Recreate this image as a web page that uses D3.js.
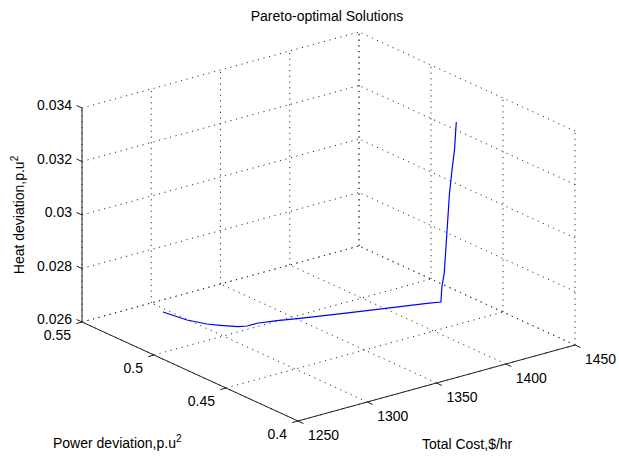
<!DOCTYPE html>
<html>
<head>
<meta charset="utf-8">
<script src="https://cdn.jsdelivr.net/npm/d3@7"></script>
<style>
  body { margin: 0; background: #fff; }
  text { font-family: "Liberation Sans", Arial, sans-serif; fill: #000; }
</style>
</head>
<body>
<div id="vis"></div>
<script>
// pareto front points (cost, power dev, heat dev)
const cost  = [1296.4, 1297.5, 1299.4, 1304.5, 1309.1, 1315.8, 1320.6, 1327.8, 1339.4, 1352.1, 1380.2, 1408.7, 1424.2, 1431.8,
               1432.5, 1434.2, 1436.1, 1438.0, 1439.8, 1441.6, 1442.9];
const power = [0.5384, 0.5332, 0.5246, 0.5156, 0.511, 0.505, 0.5033, 0.5033, 0.5005, 0.4968, 0.4891, 0.4818, 0.478, 0.4756,
               0.4756, 0.4756, 0.4756, 0.4756, 0.4756, 0.4756, 0.4756];
const heat  = [0.026, 0.026, 0.026, 0.026, 0.026, 0.026, 0.026, 0.026, 0.026, 0.026, 0.026, 0.026, 0.026, 0.026,
               0.02656, 0.02705, 0.02852, 0.02999, 0.03082, 0.03155, 0.03257];

// tick values
const costTicks  = [1250, 1300, 1350, 1400, 1450];
const powerTicks = [0.4, 0.45, 0.5, 0.55];
const heatTicks  = [0.026, 0.028, 0.03, 0.032, 0.034];
const heatLabels = ["0.026", "0.028", "0.03", "0.032", "0.034"];

const W = 619, H = 457;

const svg = d3.select("#vis")
  .append("svg")
    .attr("width", W)
    .attr("height", H);

svg.append("rect").attr("width", W).attr("height", H).attr("fill", "#fff");

// normalised scales for each 3d axis
const xS = d3.scaleLinear().domain([1250, 1450]).range([0, 1]);
const yS = d3.scaleLinear().domain([0.4, 0.55]).range([0, 1]);
const zS = d3.scaleLinear().domain([0.026, 0.034]).range([0, 1]);

// view: origin corner and screen vectors of the unit axes
const O  = [298, 421];
const EX = [277, -76];
const EY = [-216, -99];
const HZ = 214;

function proj(c, p, h) {
  const a = xS(c), b = yS(p), g = zS(h);
  return [O[0] + a * EX[0] + b * EY[0], O[1] + a * EX[1] + b * EY[1] - g * HZ];
}

const x0 = 1250, x1 = 1450, y0 = 0.4, y1 = 0.55, z0 = 0.026, z1 = 0.034;

// grid lines: back wall (power = max), side wall (cost = max), floor
let grid = [];
costTicks.forEach(c => grid.push([proj(c, y1, z0), proj(c, y1, z1)]));
heatTicks.forEach(h => grid.push([proj(x0, y1, h), proj(x1, y1, h)]));
powerTicks.forEach(p => grid.push([proj(x1, p, z0), proj(x1, p, z1)]));
heatTicks.forEach(h => grid.push([proj(x1, y0, h), proj(x1, y1, h)]));
costTicks.forEach(c => grid.push([proj(c, y0, z0), proj(c, y1, z0)]));
powerTicks.forEach(p => grid.push([proj(x0, p, z0), proj(x1, p, z0)]));

svg.append("g")
  .selectAll("line")
  .data(grid)
  .enter()
  .append("line")
    .attr("x1", d => d[0][0]).attr("y1", d => d[0][1])
    .attr("x2", d => d[1][0]).attr("y2", d => d[1][1])
    .attr("stroke", "#333")
    .attr("stroke-width", 1)
    .attr("stroke-dasharray", "1.2,4.5");

// the front
const pts = cost.map((c, i) => proj(c, power[i], heat[i]));
svg.append("path")
  .datum(pts)
  .attr("d", d3.line())
  .attr("fill", "none")
  .attr("stroke", "#0000ff")
  .attr("stroke-width", 1.2);

// axis lines
const axes = [
  [proj(x0, y1, z0), proj(x0, y1, z1)],
  [proj(x0, y0, z0), proj(x0, y1, z0)],
  [proj(x0, y0, z0), proj(x1, y0, z0)]
];
svg.append("g")
  .selectAll("line")
  .data(axes)
  .enter()
  .append("line")
    .attr("x1", d => d[0][0]).attr("y1", d => d[0][1])
    .attr("x2", d => d[1][0]).attr("y2", d => d[1][1])
    .attr("stroke", "#222")
    .attr("stroke-width", 1);

// tick marks
const TL = 6;
function unit(v) { const n = Math.hypot(v[0], v[1]); return [v[0] / n, v[1] / n]; }
const ux = unit(EX), uy = unit(EY);

let ticks = [];
heatTicks.forEach(h => { const p = proj(x0, y1, h); ticks.push([p, [p[0] + uy[0] * TL, p[1] + uy[1] * TL]]); });
powerTicks.forEach(q => { const p = proj(x0, q, z0); ticks.push([p, [p[0] - ux[0] * TL, p[1] - ux[1] * TL]]); });
costTicks.forEach(c => { const p = proj(c, y0, z0); ticks.push([p, [p[0] - uy[0] * TL, p[1] - uy[1] * TL]]); });

svg.append("g")
  .selectAll("line")
  .data(ticks)
  .enter()
  .append("line")
    .attr("x1", d => d[0][0]).attr("y1", d => d[0][1])
    .attr("x2", d => d[1][0]).attr("y2", d => d[1][1])
    .attr("stroke", "#222")
    .attr("stroke-width", 1);

// tick labels
const FS = 14;
svg.append("g")
  .selectAll("text")
  .data(heatTicks)
  .enter()
  .append("text")
    .attr("x", d => proj(x0, y1, d)[0] - 10)
    .attr("y", d => proj(x0, y1, d)[1] + 2)
    .attr("text-anchor", "end")
    .style("font-size", FS + "px")
    .text((d, i) => heatLabels[i]);

svg.append("g")
  .selectAll("text")
  .data(powerTicks)
  .enter()
  .append("text")
    .attr("x", d => proj(x0, d, z0)[0] - 11)
    .attr("y", d => proj(x0, d, z0)[1] + 18)
    .attr("text-anchor", "end")
    .style("font-size", FS + "px")
    .text(d => d3.format("")(d));

svg.append("g")
  .selectAll("text")
  .data(costTicks)
  .enter()
  .append("text")
    .attr("x", d => proj(d, y0, z0)[0] + 10)
    .attr("y", d => proj(d, y0, z0)[1] + 19)
    .attr("text-anchor", "start")
    .style("font-size", FS + "px")
    .text(d => d);

// title and axis labels
svg.append("text")
  .attr("x", 327).attr("y", 21)
  .attr("text-anchor", "middle")
  .style("font-size", FS + "px")
  .text("Pareto-optimal Solutions");

const pl = svg.append("text")
  .attr("x", 53).attr("y", 448)
  .style("font-size", FS + "px")
  .text("Power deviation,p.u");
pl.append("tspan").attr("dy", -6).style("font-size", "10px").text("2");

svg.append("text")
  .attr("x", 422).attr("y", 449)
  .style("font-size", FS + "px")
  .text("Total Cost,$/hr");

const hl = svg.append("text")
  .attr("transform", "translate(24,215) rotate(-90)")
  .attr("text-anchor", "middle")
  .style("font-size", FS + "px")
  .text("Heat deviation,p.u");
hl.append("tspan").attr("dy", -6).style("font-size", "10px").text("2");
</script>
</body>
</html>
